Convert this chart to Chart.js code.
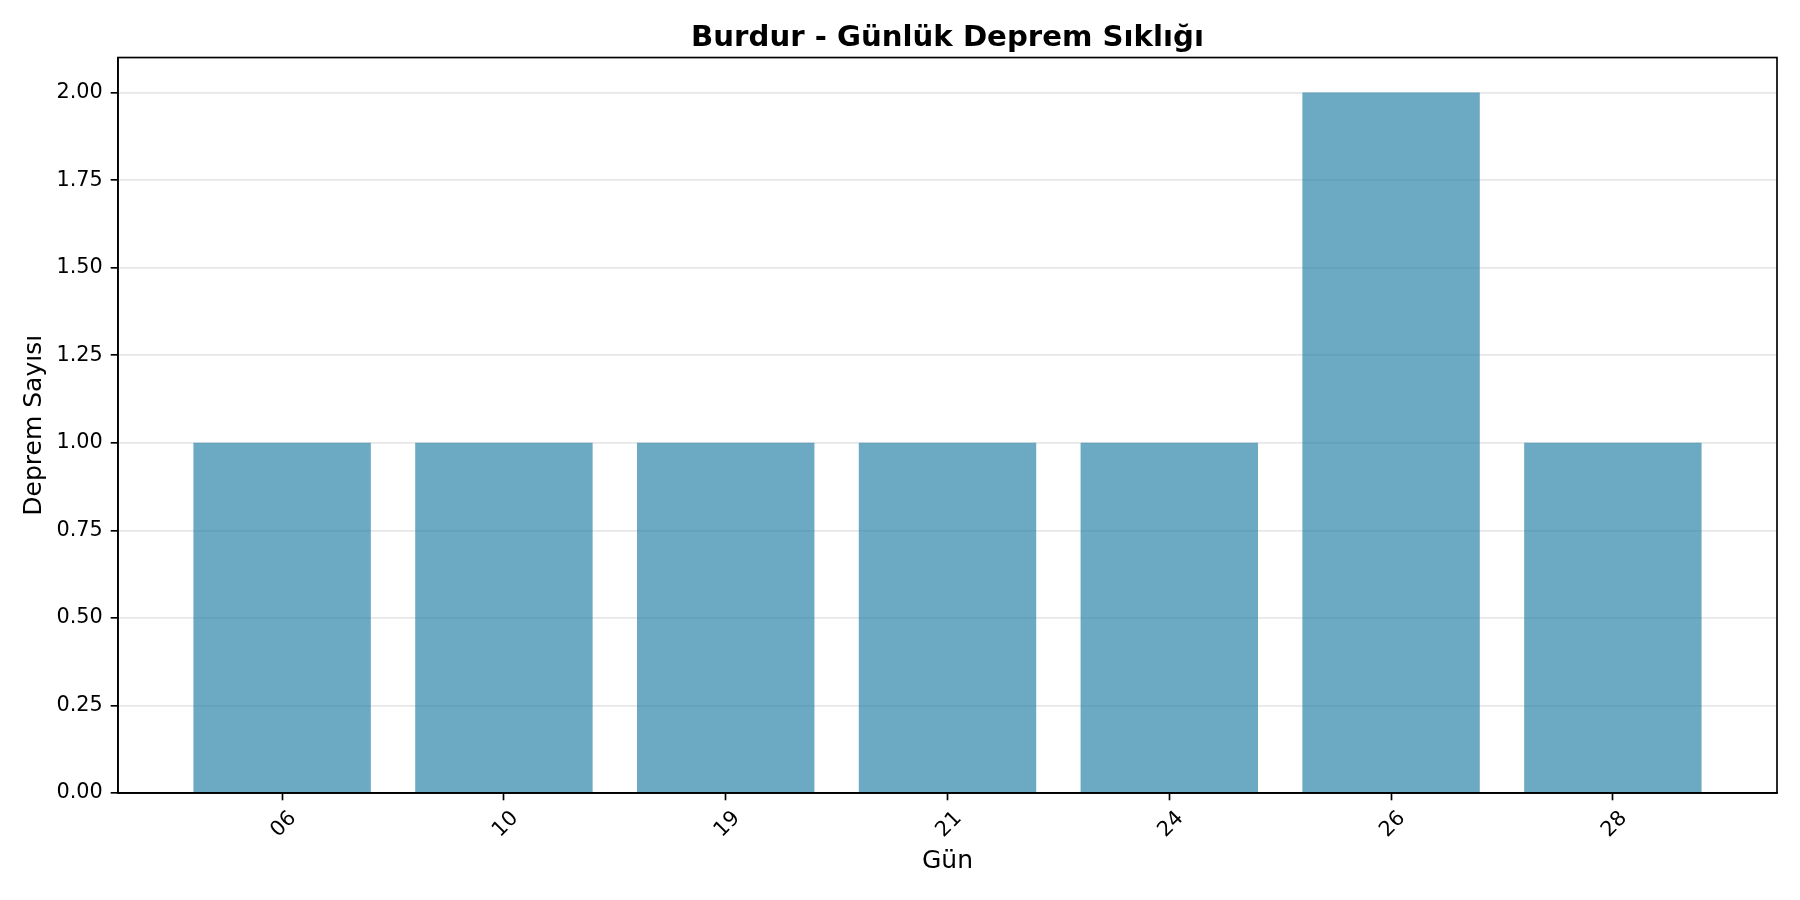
<!DOCTYPE html>
<html>
<head>
    <meta charset="utf-8">
    <script src="https://cdn.jsdelivr.net/npm/chart.js"></script>
    <style>
        html, body { margin: 0; padding: 0; background: #fff; }
        #wrapper { width: 1800px; height: 900px; }
    </style>
</head>
<body>
    <div id="wrapper">
        <canvas id="chart" width="1800" height="900"></canvas>
    </div>

<script>
    var days = ['06', '10', '19', '21', '24', '26', '28'];
    var counts = [1, 1, 1, 1, 1, 2, 1];
    var yTicks = [0, 0.25, 0.5, 0.75, 1.0, 1.25, 1.5, 1.75, 2.0];

    var points = days.map(function (d, i) {
        return { x: i, y: counts[i] };
    });

    // top and right spines like matplotlib
    var frame = {
        id: 'frame',
        afterDraw: function (chart) {
            var a = chart.chartArea;
            var ctx = chart.ctx;
            ctx.save();
            ctx.strokeStyle = '#000';
            ctx.lineWidth = 1.67;
            ctx.strokeRect(a.left, a.top, a.right - a.left, a.bottom - a.top);
            ctx.restore();
        }
    };

    Chart.defaults.font.family = 'DejaVu Sans';
    Chart.defaults.color = '#000';

    new Chart('chart', {
        type: 'bar',
        data: {
            datasets: [{
                data: points,
                backgroundColor: 'rgba(46, 134, 171, 0.7)',
                borderWidth: 0,
                barPercentage: 0.8,
                categoryPercentage: 1.0
            }]
        },
        options: {
            responsive: false,
            animation: false,
            layout: { padding: { left: 0, right: 23, top: 0, bottom: 0 } },
            plugins: {
                legend: { display: false },
                tooltip: { enabled: false },
                title: {
                    display: true,
                    fullSize: false,
                    text: 'Burdur - Günlük Deprem Sıklığı',
                    font: { size: 29.2, weight: 'bold' },
                    color: '#000',
                    padding: { top: 20.5, bottom: 2 }
                }
            },
            scales: {
                x: {
                    type: 'linear',
                    min: -0.74,
                    max: 6.74,
                    offset: false,
                    afterFit: function (s) { s.height = 107; },
                    afterBuildTicks: function (s) {
                        s.ticks = days.map(function (d, i) { return { value: i }; });
                    },
                    ticks: {
                        callback: function (v) { return days[v]; },
                        font: { size: 20.8 },
                        color: '#000',
                        maxRotation: 45,
                        minRotation: 45,
                        padding: 6,
                        labelOffset: 11,
                        autoSkip: false
                    },
                    grid: {
                        offset: false,
                        drawOnChartArea: false,
                        tickLength: 7.3,
                        tickColor: '#000',
                        tickWidth: 1.67
                    },
                    border: { display: true, color: '#000', width: 1.67 },
                    title: {
                        display: true,
                        text: 'Gün',
                        font: { size: 25 },
                        color: '#000',
                        padding: { top: 0, bottom: 24 }
                    }
                },
                y: {
                    min: 0,
                    max: 2.1,
                    afterFit: function (s) { s.width = 118; },
                    afterBuildTicks: function (s) {
                        s.ticks = yTicks.map(function (v) { return { value: v }; });
                    },
                    ticks: {
                        callback: function (v) { return v.toFixed(2); },
                        font: { size: 20.8 },
                        color: '#000',
                        padding: 8
                    },
                    grid: {
                        color: 'rgba(176, 176, 176, 0.3)',
                        lineWidth: 1.67,
                        tickLength: 7.3,
                        tickColor: '#000',
                        tickWidth: 1.67
                    },
                    border: { display: true, color: '#000', width: 1.67 },
                    title: {
                        display: true,
                        text: 'Deprem Sayısı',
                        font: { size: 25 },
                        color: '#000',
                        padding: { top: 19, bottom: 0 }
                    }
                }
            }
        },
        plugins: [frame]
    });
</script>
</body>
</html>
